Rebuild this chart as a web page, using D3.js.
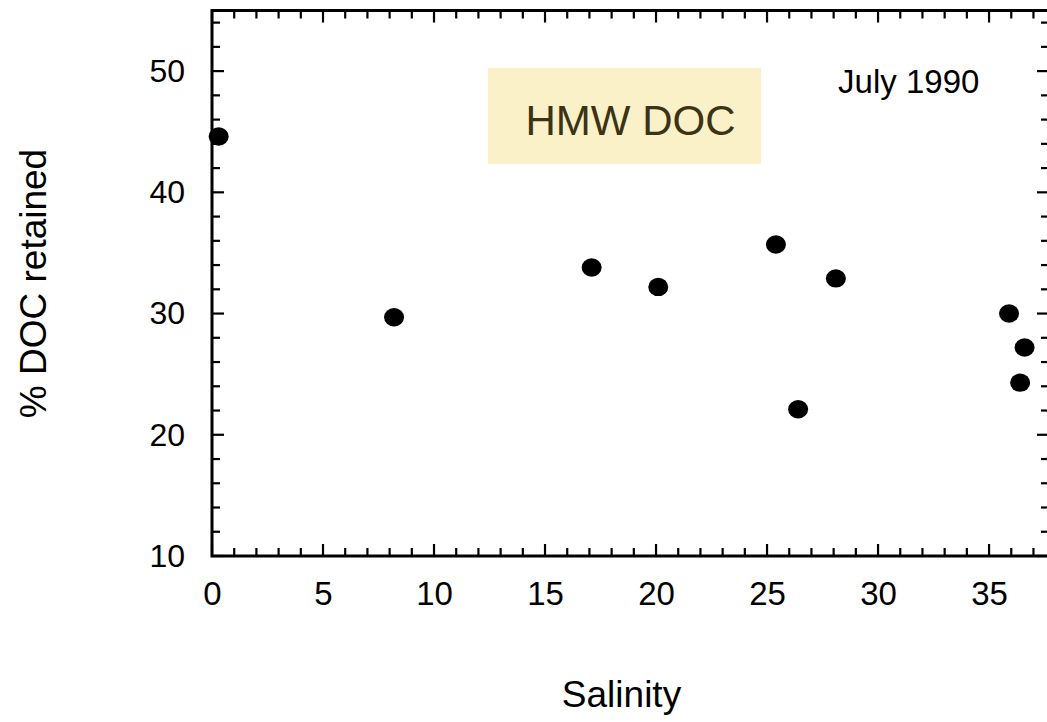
<!DOCTYPE html>
<html><head><meta charset="utf-8">
<script src="https://cdn.jsdelivr.net/npm/d3@7"></script>
<style>body{margin:0;background:#fff}svg{display:block}text{font-family:"Liberation Sans",Arial,sans-serif}</style>
</head><body>
<script>
const salinity = [0.3, 8.2, 17.1, 20.1, 25.4, 26.4, 28.1, 35.9, 36.6, 36.4];
const docRetained = [44.6, 29.7, 33.8, 32.2, 35.7, 22.1, 32.9, 30.0, 27.2, 24.3];
const xTicks = [0, 5, 10, 15, 20, 25, 30, 35];
const yTicks = [10, 20, 30, 40, 50];
const xLabel = "Salinity";
const yLabel = "% DOC retained";
const dateLabel = "July 1990";
const boxLabel = "HMW DOC";

const W = 1047, H = 722;
const FONT = "Liberation Sans, Arial, sans-serif";
const svg = d3.select("body").append("svg").attr("width", W).attr("height", H);
const L = 212, R = 1049, T = 10.5, B = 556;
const x = d3.scaleLinear().domain([0, 37.7]).range([L, R]);
const y = d3.scaleLinear().domain([10, 55]).range([B, T]);

// HMW DOC box
svg.append("rect").attr("x", x(12.43)).attr("y", y(50.27)).attr("width", x(24.73) - x(12.43)).attr("height", y(42.35) - y(50.27)).attr("fill", "#faf1c9");
svg.append("text").attr("x", x(18.85)).attr("y", y(44.7)).attr("text-anchor", "middle").attr("font-size", 42).attr("fill", "#3b3314").text(boxLabel);
svg.append("text").attr("x", x(28.2)).attr("y", y(48.2)).attr("font-size", 33).attr("fill", "#000").text(dateLabel);

// ticks (inward, all four sides)
const xMinor = d3.range(0, 38, 1);
const yMinor = d3.range(10, 56, 2);
const tk = svg.append("g").attr("stroke", "#000").attr("stroke-width", 2.2);
xMinor.forEach(v => {
  const len = v % 5 === 0 ? 12 : 8;
  tk.append("line").attr("x1", x(v)).attr("x2", x(v)).attr("y1", B).attr("y2", B - len);
  tk.append("line").attr("x1", x(v)).attr("x2", x(v)).attr("y1", T).attr("y2", T + len);
});
yMinor.forEach(v => {
  const len = v % 10 === 0 ? 12 : 8;
  tk.append("line").attr("y1", y(v)).attr("y2", y(v)).attr("x1", L).attr("x2", L + len);
  tk.append("line").attr("y1", y(v)).attr("y2", y(v)).attr("x1", R).attr("x2", R - len);
});

// tick labels via d3 axes
const ax = svg.append("g").attr("transform", `translate(0,${B})`)
  .call(d3.axisBottom(x).tickValues(xTicks).tickSize(0).tickPadding(26));
ax.select(".domain").remove();
ax.selectAll("text").attr("font-size", 33).attr("font-family", FONT).attr("fill", "#000");
const ay = svg.append("g").attr("transform", `translate(${L},0)`)
  .call(d3.axisLeft(y).tickValues(yTicks).tickSize(0).tickPadding(27));
ay.select(".domain").remove();
ay.selectAll("text").attr("font-size", 32).attr("font-family", FONT).attr("fill", "#000");

// frame
svg.append("rect").attr("x", L).attr("y", T).attr("width", R - L).attr("height", B - T)
  .attr("fill", "none").attr("stroke", "#000").attr("stroke-width", 3);

// points
svg.append("g").selectAll("ellipse").data(salinity).join("ellipse")
  .attr("cx", (d) => x(d)).attr("cy", (d, i) => y(docRetained[i]))
  .attr("rx", 10).attr("ry", 9.2).attr("fill", "#000");

// titles
svg.append("text").attr("x", 621.5).attr("y", 707).attr("text-anchor", "middle").attr("font-size", 37).text(xLabel);
svg.append("text").attr("transform", `translate(46,${283.5}) rotate(-90)`).attr("text-anchor", "middle").attr("font-size", 37).text(yLabel);
</script>
</body></html>
